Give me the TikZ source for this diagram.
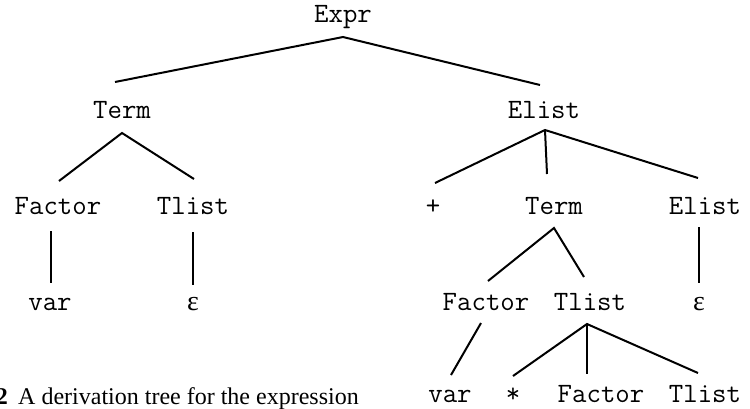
\documentclass[tikz,border=0pt]{standalone}
\usepackage{fontspec}
\setmainfont{Liberation Serif}
\begin{document}
\begin{tikzpicture}[x=1pt,y=-1pt,
  lbl/.style={inner sep=0pt,anchor=base,font=\ttfamily\fontsize{28}{28}\selectfont},
  eps/.style={inner sep=0pt,anchor=base,font=\fontsize{28}{28}\selectfont},
  edge/.style={line width=2pt}]
\useasboundingbox (0,0) rectangle (750,408);
% row 1
\node[lbl] (expr) at (343,22) {Expr};
% row 2
\node[lbl] (term1) at (122,118) {Term};
\node[lbl] (elist1) at (544,118) {Elist};
% row 3
\node[lbl] (factor1) at (58,214) {Factor};
\node[lbl] (tlist1) at (193,214) {Tlist};
\node[lbl] (plus) at (433,214) {+};
\node[lbl] (term2) at (554,214) {Term};
\node[lbl] (elist2) at (705,214) {Elist};
% row 4
\node[lbl] (var1) at (50,310) {var};
\node[eps] (eps1) at (193,310) {ε};
\node[lbl] (factor2) at (486,310) {Factor};
\node[lbl] (tlist2) at (590,310) {Tlist};
\node[eps] (eps2) at (699,310) {ε};
% row 5
\node[lbl] (var2) at (450,402) {var};
\node[lbl] (star) at (513,402) {*};
\node[lbl] (factor3) at (601,402) {Factor};
\node[lbl] (tlist3) at (705,402) {Tlist};
% caption
\node[inner sep=0pt,anchor=base east,font=\fontsize{24}{24}\selectfont\bfseries] (capnum) at (8,404) {2};
\node[inner sep=0pt,anchor=base west,font=\fontsize{24}{24}\selectfont] (cap) at (18,404) {A derivation tree for the expression};
% edges
\draw[edge] ([shift={(-7,-36)}]term1.base) -- ([shift={(0,15)}]expr.base) -- ([shift={(-4,-33)}]elist1.base);
\draw[edge] ([shift={(1,-33)}]factor1.base) -- ([shift={(0,15)}]term1.base) -- ([shift={(1,-35)}]tlist1.base);
\draw[edge] ([shift={(-7,17)}]factor1.base) -- ([shift={(1,-27)}]var1.base);
\draw[edge] ([shift={(0,18)}]tlist1.base) -- ([shift={(0,-25)}]eps1.base);
\draw[edge] ([shift={(2,-31)}]plus.base) -- ([shift={(1,12)}]elist1.base) -- ([shift={(-7,-36)}]elist2.base);
\draw[edge] ([shift={(1,12)}]elist1.base) -- ([shift={(-7,-40)}]term2.base);
\draw[edge] ([shift={(2,-29)}]factor2.base) -- ([shift={(0,14)}]term2.base) -- ([shift={(-6,-33)}]tlist2.base);
\draw[edge] ([shift={(-6,13)}]elist2.base) -- ([shift={(0,-27)}]eps2.base);
\draw[edge] ([shift={(-5,13)}]factor2.base) -- ([shift={(1,-27)}]var2.base);
\draw[edge] ([shift={(0,-26)}]star.base) -- ([shift={(-3,14)}]tlist2.base) -- ([shift={(-7,-29)}]tlist3.base);
\draw[edge] ([shift={(-3,14)}]tlist2.base) -- ([shift={(-14,-28)}]factor3.base);
\end{tikzpicture}
\end{document}
